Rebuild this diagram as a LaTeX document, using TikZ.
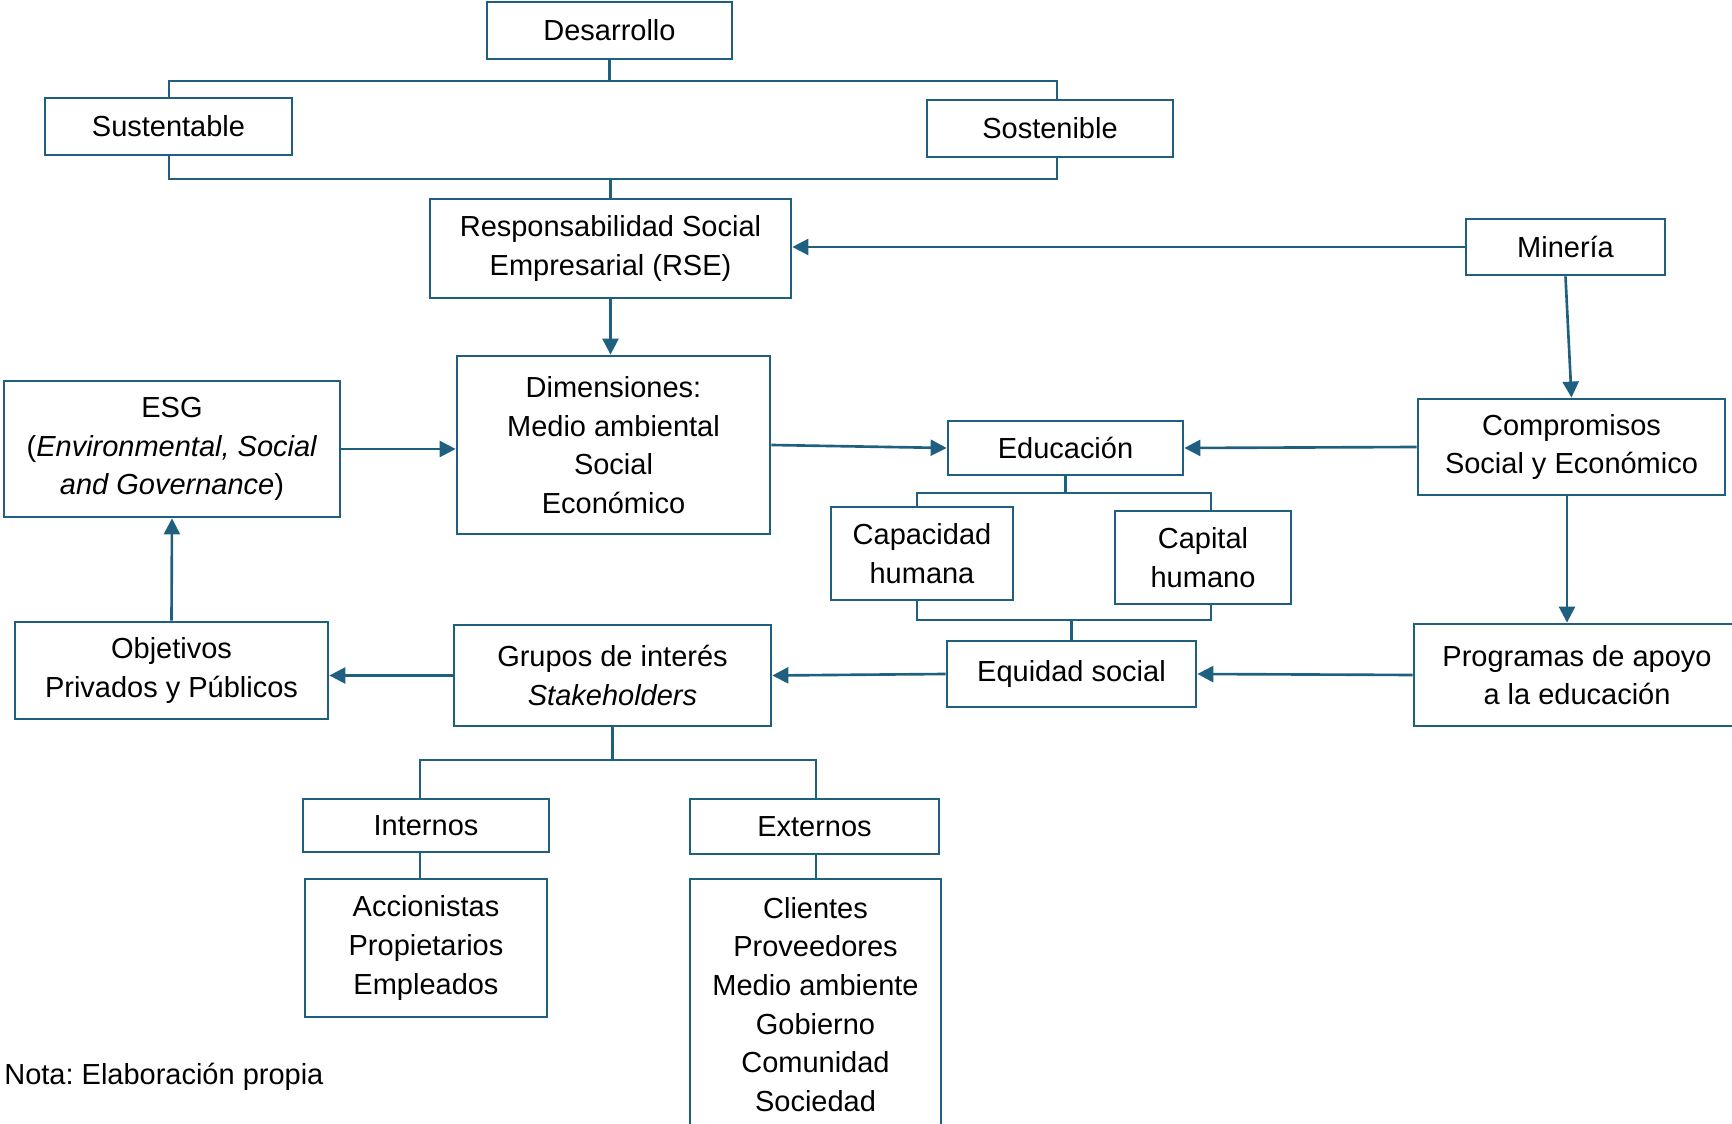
\documentclass[tikz,border=0pt]{standalone}
\usepackage{fontspec}
\setmainfont{Liberation Sans}
\usetikzlibrary{arrows.meta}
\definecolor{azul}{RGB}{31,95,128}
\frenchspacing

\begin{document}
\begin{tikzpicture}[x=0.02cm, y=-0.02cm,
  box/.style={draw=azul, line width=1.6pt, rectangle, inner sep=0pt, align=center, font=\fontsize{16.5}{22}\selectfont},
  link/.style={draw=azul, line width=1.5pt},
  arr/.style={link, -{Triangle[length=0.32cm, width=0.32cm]}}]
\useasboundingbox (0,0) rectangle (1732,1124);
% draws boxes
\node[box, minimum width=4.9cm, minimum height=1.14cm] (des) at (609.5,30.5) {Desarrollo};
\node[box, minimum width=4.94cm, minimum height=1.14cm] (sust) at (168.5,126.5) {Sustentable};
\node[box, minimum width=4.92cm, minimum height=1.14cm] (sost) at (1050,128.5) {Sostenible};
\node[box, minimum width=7.22cm, minimum height=1.98cm] (rse) at (610.5,248.5) {Responsabilidad Social\\Empresarial (RSE)};
\node[box, minimum width=3.98cm, minimum height=1.12cm] (min) at (1565.5,247) {Minería};
\node[box, minimum width=6.26cm, minimum height=3.56cm] (dim) at (613.5,445) {Dimensiones:\\Medio ambiental\\Social\\Económico};
\node[box, minimum width=6.72cm, minimum height=2.72cm] (esg) at (172,449) {ESG\\(\textit{Environmental, Social}\\\textit{and Governance})};
\node[box, minimum width=4.7cm, minimum height=1.08cm] (edu) at (1065.5,448) {Educación};
\node[box, minimum width=6.14cm, minimum height=1.92cm] (comp) at (1571.5,447) {Compromisos\\Social y Económico};
\node[box, minimum width=3.64cm, minimum height=1.86cm] (cap) at (922,553.5) {Capacidad\\humana};
\node[box, minimum width=3.52cm, minimum height=1.86cm] (capi) at (1203,557.5) {Capital\\humano};
\node[box, minimum width=4.98cm, minimum height=1.32cm] (equ) at (1071.5,674) {Equidad social};
\node[box, minimum width=6.52cm, minimum height=2.04cm] (prog) at (1577,675) {Programas de apoyo\\a la educación};
\node[box, minimum width=6.34cm, minimum height=2.02cm] (grp) at (612.5,675.5) {Grupos de interés\\\textit{Stakeholders}};
\node[box, minimum width=6.26cm, minimum height=1.94cm] (obj) at (171.5,670.5) {Objetivos\\Privados y Públicos};
\node[box, minimum width=4.92cm, minimum height=1.06cm] (int) at (426,825.5) {Internos};
\node[box, minimum width=4.98cm, minimum height=1.1cm] (ext) at (814.5,826.5) {Externos};
\node[box, minimum width=4.84cm, minimum height=2.76cm] (acc) at (426,948) {Accionistas\\Propietarios\\Empleados};
\node[box, minimum width=5.02cm, minimum height=5.02cm] (cli) at (815.5,1004.5) {Clientes\\Proveedores\\Medio ambiente\\Gobierno\\Comunidad\\Sociedad};
\node[anchor=west, inner sep=0pt, font=\fontsize{16.5}{22}\selectfont] (nota) at (4,1077) {Nota: Elaboración propia};
% bus coordinates
\coordinate (b1l) at (169,81);
\coordinate (b1r) at (1057,81);
\coordinate (b2l) at (169,179);
\coordinate (b2r) at (1057,179);
\coordinate (b3l) at (917,493);
\coordinate (b3r) at (1211,493);
\coordinate (b4l) at (917,620);
\coordinate (b4r) at (1211,620);
\coordinate (b5l) at (420,760);
\coordinate (b5r) at (816,760);
\coordinate (cp) at (1567,0);
% draws brackets
\draw[link] (des.south) -- (des.south |- b1l);
\draw[link] (sust.north -| b1l) -- (b1l) -- (b1r) -- (sost.north -| b1r);
\draw[link] (sust.south -| b2l) -- (b2l) -- (b2r) -- (sost.south -| b2r);
\draw[link] (rse.north |- b2l) -- (rse.north);
\draw[link] (edu.south) -- (edu.south |- b3l);
\draw[link] (cap.north -| b3l) -- (b3l) -- (b3r) -- (capi.north -| b3r);
\draw[link] (cap.south -| b4l) -- (b4l) -- (b4r) -- (capi.south -| b4r);
\draw[link] (equ.north |- b4l) -- (equ.north);
\draw[link] (grp.south) -- (grp.south |- b5l);
\draw[link] (int.north -| b5l) -- (b5l) -- (b5r) -- (ext.north -| b5r);
\draw[link] (int.south -| b5l) -- (acc.north -| b5l);
\draw[link] (ext.south -| b5r) -- (cli.north -| b5r);
% draws arrows
\draw[arr] (min.west) -- (rse.east |- min.west);
\draw[arr] (rse.south) -- (rse.south |- dim.north);
\draw[arr] (esg.east) -- (dim.west |- esg.east);
\draw[arr] (dim.east) -- (edu.west);
\draw[arr] (comp.west) -- (edu.east);
\draw[arr] (min.south) -- (comp.north);
\draw[arr] (comp.south -| cp) -- (prog.north -| cp);
\draw[arr] (prog.west) -- (equ.east);
\draw[arr] (equ.west) -- (grp.east);
\draw[arr] (grp.west) -- (obj.east |- grp.west);
\draw[arr] (obj.north) -- (esg.south);
\end{tikzpicture}
\end{document}
